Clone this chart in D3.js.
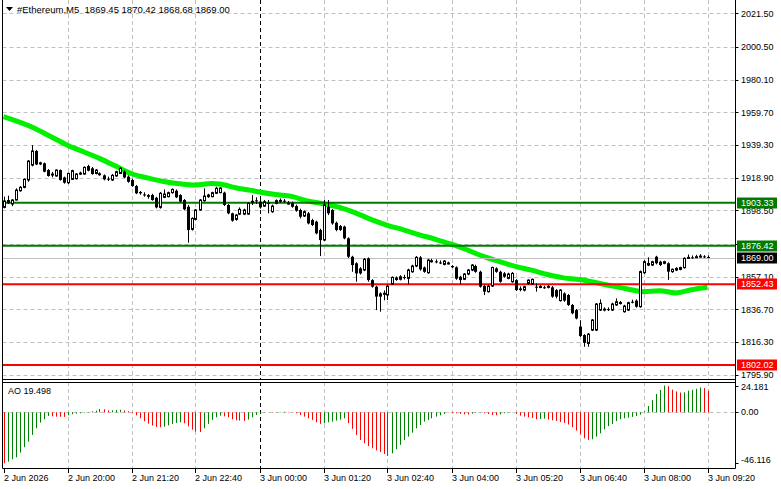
<!DOCTYPE html>
<html>
<head>
<meta charset="utf-8">
<script src="https://cdn.jsdelivr.net/npm/d3@7"></script>
<style>
  body { margin: 0; background: #fff; }
  svg { display: block; font-family: "Liberation Sans", Arial, sans-serif; }
</style>
</head>
<body>
<div id="chart"></div>
<script>
// chart values (5 minute bars, index 0 = 2 Jun 18:40)
const opens = [
  1900.4, 1905.0, 1902.5, 1905.0, 1910.8, 1912.9, 1917.5, 1926.8, 1935.6, 1927.6,
  1927.9, 1923.7, 1920.6, 1920.0, 1923.7, 1919.1, 1915.8, 1917.9, 1918.3, 1921.6,
  1921.2, 1926.2, 1924.8, 1921.6, 1921.2, 1920.4, 1918.3, 1917.5, 1920.0, 1921.6,
  1922.7, 1919.6, 1917.5, 1913.7, 1910.0, 1908.5, 1908.1, 1908.1, 1906.4, 1900.4,
  1906.7, 1907.1, 1909.6, 1910.8, 1908.1, 1905.0, 1900.8, 1886.7, 1892.9, 1898.8,
  1904.6, 1907.1, 1907.1, 1909.2, 1909.6, 1909.6, 1901.9, 1896.7, 1892.9, 1896.2,
  1896.2, 1896.2, 1903.3, 1904.8, 1904.0, 1901.2, 1903.3, 1897.7, 1902.9, 1904.2,
  1904.6, 1903.0, 1903.1, 1901.2, 1898.8, 1895.0, 1896.7, 1892.5, 1891.5, 1886.3,
  1880.0, 1900.8, 1898.8, 1890.8, 1888.8, 1888.4, 1881.1, 1869.6, 1865.5, 1862.3,
  1861.3, 1868.6, 1855.0, 1850.9, 1846.7, 1846.6, 1845.7, 1852.5, 1855.4, 1855.5,
  1856.9, 1856.1, 1860.2, 1863.8, 1869.2, 1862.9, 1859.6, 1866.9, 1866.7, 1866.0,
  1864.8, 1865.5, 1863.8, 1863.0, 1857.1, 1855.5, 1858.8, 1861.3, 1863.8, 1860.2,
  1851.3, 1847.8, 1851.3, 1862.3, 1860.2, 1859.2, 1856.1, 1854.0, 1855.0, 1849.8,
  1848.8, 1852.9, 1852.6, 1850.9, 1850.8, 1850.5, 1850.9, 1850.5, 1848.8, 1842.2,
  1846.7, 1845.7, 1839.5, 1836.3, 1826.0, 1820.7, 1815.5, 1823.8, 1823.8, 1836.3,
  1836.7, 1836.9, 1836.3, 1839.5, 1840.9, 1835.3, 1836.3, 1841.5, 1842.2, 1838.4,
  1859.6, 1864.4, 1864.4, 1869.6, 1866.5, 1865.5, 1865.5, 1860.3, 1861.3, 1861.7,
  1862.8, 1869.0, 1869.2, 1869.2, 1869.6, 1869.8, 1869.45
];
const highs = [
  1907.1, 1907.7, 1905.6, 1912.3, 1913.7, 1918.5, 1930.0, 1939.3, 1936.2, 1928.9,
  1928.4, 1924.3, 1922.5, 1924.1, 1924.1, 1919.6, 1922.1, 1923.9, 1921.8, 1922.7,
  1926.0, 1927.0, 1925.6, 1924.3, 1922.3, 1921.0, 1919.6, 1921.2, 1923.3, 1925.6,
  1923.5, 1920.4, 1918.3, 1914.4, 1910.6, 1909.8, 1908.7, 1908.9, 1907.0, 1910.0,
  1911.6, 1910.2, 1912.3, 1911.6, 1908.7, 1905.6, 1901.9, 1894.2, 1899.4, 1905.6,
  1912.3, 1908.9, 1910.2, 1913.3, 1913.1, 1910.2, 1902.5, 1897.1, 1896.3, 1900.4,
  1899.6, 1903.5, 1908.1, 1906.7, 1905.0, 1905.0, 1905.0, 1902.1, 1905.4, 1906.0,
  1905.6, 1904.4, 1904.0, 1902.1, 1899.6, 1898.5, 1897.5, 1893.3, 1892.1, 1887.1,
  1905.0, 1905.0, 1899.4, 1891.5, 1889.4, 1889.0, 1881.7, 1870.2, 1866.1, 1863.1,
  1868.8, 1869.2, 1855.6, 1851.5, 1847.4, 1848.6, 1852.1, 1857.3, 1857.3, 1858.1,
  1858.3, 1862.1, 1864.6, 1870.0, 1870.0, 1863.5, 1868.3, 1868.3, 1867.9, 1867.3,
  1867.5, 1866.5, 1864.4, 1863.6, 1857.7, 1859.4, 1861.9, 1865.0, 1864.6, 1860.9,
  1852.1, 1852.1, 1863.4, 1863.0, 1860.9, 1860.0, 1859.6, 1860.0, 1855.6, 1851.1,
  1851.5, 1855.5, 1856.0, 1852.9, 1851.9, 1851.5, 1851.9, 1851.3, 1849.4, 1849.4,
  1847.4, 1846.3, 1840.1, 1837.0, 1830.0, 1821.3, 1822.0, 1830.7, 1840.7, 1843.0,
  1838.0, 1838.0, 1840.9, 1843.6, 1842.0, 1839.6, 1841.5, 1842.8, 1843.0, 1861.0,
  1867.5, 1869.2, 1867.1, 1870.2, 1867.1, 1867.1, 1866.1, 1862.3, 1863.0, 1863.4,
  1869.2, 1871.0, 1870.4, 1870.8, 1871.2, 1870.6, 1870.42
];
const lows = [
  1899.8, 1902.5, 1901.2, 1904.8, 1910.2, 1912.3, 1916.4, 1926.0, 1926.8, 1926.8,
  1922.3, 1919.6, 1919.2, 1919.6, 1917.1, 1915.2, 1915.0, 1917.5, 1917.9, 1920.6,
  1920.8, 1922.9, 1920.8, 1921.0, 1920.2, 1917.3, 1916.9, 1916.9, 1919.6, 1921.2,
  1918.7, 1915.8, 1913.3, 1908.7, 1908.3, 1907.1, 1905.8, 1904.6, 1899.8, 1899.6,
  1906.2, 1906.7, 1909.0, 1906.2, 1903.5, 1898.6, 1878.4, 1885.9, 1892.3, 1898.3,
  1904.0, 1906.4, 1906.7, 1908.7, 1909.2, 1901.3, 1896.1, 1891.5, 1892.1, 1895.6,
  1895.6, 1895.8, 1901.9, 1902.5, 1899.6, 1900.8, 1896.7, 1897.0, 1902.3, 1903.3,
  1903.1, 1902.1, 1900.2, 1897.7, 1893.5, 1894.4, 1889.8, 1888.7, 1883.6, 1870.0,
  1879.4, 1895.6, 1889.6, 1885.5, 1885.7, 1880.5, 1868.8, 1860.2, 1854.0, 1858.5,
  1860.6, 1854.0, 1850.3, 1836.3, 1835.3, 1842.4, 1842.6, 1851.9, 1854.6, 1854.8,
  1855.4, 1852.5, 1859.6, 1863.1, 1860.9, 1859.6, 1859.0, 1865.9, 1865.5, 1865.0,
  1864.2, 1864.8, 1862.5, 1855.2, 1852.5, 1855.0, 1858.1, 1860.6, 1859.6, 1850.3,
  1845.7, 1847.2, 1850.8, 1859.6, 1853.4, 1856.5, 1855.5, 1853.4, 1848.2, 1848.0,
  1848.0, 1852.0, 1852.0, 1847.8, 1850.0, 1849.6, 1849.8, 1844.0, 1843.6, 1841.6,
  1841.5, 1838.9, 1833.7, 1830.5, 1819.5, 1813.4, 1813.4, 1823.2, 1823.2, 1835.7,
  1835.5, 1835.7, 1835.7, 1838.9, 1839.8, 1834.7, 1835.7, 1840.5, 1837.8, 1837.8,
  1858.9, 1863.7, 1863.8, 1864.8, 1863.8, 1864.9, 1855.1, 1859.6, 1860.6, 1861.1,
  1862.2, 1868.4, 1868.4, 1868.8, 1869.0, 1868.8, 1868.68
];
const closes = [
  1904.4, 1902.9, 1905.0, 1911.2, 1912.9, 1917.9, 1929.3, 1935.6, 1927.2, 1928.2,
  1922.7, 1920.0, 1921.2, 1923.7, 1917.5, 1915.8, 1921.6, 1923.3, 1921.2, 1921.8,
  1925.4, 1923.3, 1921.2, 1923.7, 1921.4, 1917.9, 1918.1, 1920.4, 1922.7, 1924.8,
  1919.1, 1916.4, 1913.7, 1909.2, 1909.2, 1908.3, 1907.0, 1905.0, 1900.4, 1909.2,
  1908.7, 1909.6, 1911.6, 1906.7, 1904.0, 1899.2, 1886.3, 1893.5, 1898.8, 1905.0,
  1907.5, 1908.1, 1909.6, 1912.3, 1912.5, 1901.9, 1896.7, 1892.1, 1895.6, 1899.2,
  1898.8, 1902.9, 1904.2, 1904.4, 1900.4, 1903.9, 1902.5, 1901.2, 1904.6, 1904.8,
  1904.0, 1903.1, 1900.8, 1898.3, 1894.6, 1897.7, 1890.4, 1889.4, 1884.2, 1880.0,
  1901.9, 1896.7, 1890.4, 1886.3, 1886.3, 1881.1, 1869.6, 1864.4, 1859.2, 1859.2,
  1868.0, 1855.0, 1850.9, 1844.7, 1844.7, 1846.8, 1851.3, 1856.7, 1856.3, 1857.1,
  1856.7, 1861.3, 1863.8, 1869.2, 1861.7, 1860.2, 1867.5, 1867.1, 1866.5, 1865.8,
  1866.9, 1865.7, 1863.0, 1855.9, 1855.0, 1858.8, 1861.3, 1864.4, 1860.2, 1850.9,
  1847.8, 1851.3, 1862.9, 1860.2, 1854.0, 1857.1, 1858.8, 1859.2, 1848.8, 1848.8,
  1850.9, 1855.0, 1855.5, 1850.7, 1851.0, 1850.4, 1851.1, 1844.7, 1844.7, 1848.8,
  1842.2, 1839.5, 1834.3, 1831.1, 1820.1, 1815.9, 1821.3, 1830.1, 1840.1, 1840.5,
  1836.9, 1836.7, 1840.1, 1841.5, 1841.0, 1838.8, 1840.9, 1841.3, 1838.4, 1860.3,
  1866.5, 1865.4, 1866.5, 1865.5, 1864.4, 1866.5, 1860.3, 1861.7, 1862.3, 1862.8,
  1868.6, 1869.2, 1869.0, 1869.6, 1870.0, 1869.4, 1869.00
];

// moving average, sampled at bar index
const maBars = [0, 8, 12, 16, 20, 24, 28, 32, 36, 40, 44, 48, 52, 54, 58, 62, 64, 68, 72, 76, 80, 84, 88,
  92, 96, 100, 104, 108, 112, 116, 120, 124, 128, 132, 136, 140, 144, 148, 152, 156, 160, 164, 168, 172, 176];
const maValues = [1957.0, 1949.5, 1944.3, 1939.2, 1935.1, 1931.0, 1926.2, 1921.4, 1918.8, 1916.6, 1915.2,
  1914.4, 1915.3, 1915.0, 1912.7, 1911.0, 1910.0, 1908.4, 1907.3, 1904.4, 1902.7, 1900.4, 1897.0, 1892.8,
  1889.2, 1886.4, 1883.3, 1880.5, 1877.4, 1873.8, 1869.8, 1866.5, 1863.6, 1861.2, 1858.5, 1856.4, 1855.4,
  1853.5, 1851.4, 1849.5, 1847.8, 1848.4, 1847.0, 1849.0, 1850.5];

// Awesome Oscillator
const aoValues = [
  -46.116, -44.6, -42.5, -40.7, -36.5, -31.6, -26.5, -20.5, -14.5, -9.3,
  -6.3, -3.3, -3.6, -3.9, -4.1, -4.2, -2.6, -1.8, -1.2, -0.9,
  -0.4, 0.3, 0.9, 1.5, 3.0, 2.7, 1.6, 1.8, 2.1, 2.3,
  1.6, 1.0, -0.6, -2.7, -5.4, -8.0, -10.2, -12.0, -13.2, -13.6,
  -13.0, -11.8, -10.5, -9.6, -9.0, -9.9, -12.7, -15.7, -17.5, -17.8,
  -14.5, -10.5, -6.9, -4.5, -3.0, -3.6, -4.5, -6.3, -7.2, -7.5,
  -7.8, -6.6, -4.5, -2.4, -0.9, 0.2, -0.1, -0.4, -0.2, 0.3,
  0.5, 0.3, -0.1, -0.9, -2.4, -3.9, -5.4, -6.9, -9.0, -10.5,
  -9.9, -9.0, -8.4, -7.5, -6.6, -5.4, -9.9, -15.0, -20.5, -25.0,
  -28.0, -30.5, -32.6, -34.4, -35.9, -37.7, -39.5, -37.1, -33.5, -29.5,
  -25.0, -22.0, -18.4, -14.5, -11.5, -8.4, -6.9, -5.4, -3.9, -2.7,
  -1.5, -0.3, -0.6, -0.9, -1.5, -1.8, -2.0, -1.2, -0.5, -0.2,
  -0.9, -1.5, -2.4, -2.7, -1.8, -0.9, -0.3, 0.2, -1.5, -3.0,
  -3.9, -4.5, -5.1, -6.3, -6.0, -5.7, -6.6, -7.2, -7.8, -8.7,
  -9.6, -11.0, -13.5, -16.5, -20.0, -23.5, -25.0, -24.4, -22.0, -19.0,
  -15.4, -12.5, -10.5, -8.0, -6.3, -5.4, -4.8, -4.2, -3.3, -2.1,
  0.8, 5.7, 11.2, 16.6, 20.2, 24.181, 23.5, 20.5, 18.9, 17.9,
  18.1, 19.6, 20.4, 21.3, 22.4, 21.8, 19.498
];

// grid levels of the price scale; the one at 1877.70 has its label hidden by the 1876.42 tag
const priceTicks = [2021.50, 2000.50, 1980.10, 1959.70, 1939.30, 1918.90, 1898.50, 1877.70, 1857.10, 1836.70, 1816.30, 1795.90];
const hiddenTick = 1877.70;
const aoTicks = [24.181, 0, -46.116];
const aoTickLabels = ["24.181", "0.00", "-46.116"];
const timeBars = [0, 16, 32, 48, 64, 80, 96, 112, 128, 144, 160, 176];
const timeLabels = ["2 Jun 2026", "2 Jun 20:00", "2 Jun 21:20", "2 Jun 22:40", "3 Jun 00:00", "3 Jun 01:20",
  "3 Jun 02:40", "3 Jun 04:00", "3 Jun 05:20", "3 Jun 06:40", "3 Jun 08:00", "3 Jun 09:20"];
const levelValues = [1903.33, 1876.42, 1852.43, 1802.02];
const levelKinds = ["support", "support", "resist", "resist"];
const bidPrice = 1869.00;
const headerText = "#Ethereum,M5  1869.45 1870.42 1868.68 1869.00";
const aoLabel = "AO 19.498";

// layout
const W = 781, H = 489;
const left = 2.5, right = 735.5;
const mainTop = 0, mainBottom = 379;
const aoTop = 382, aoBottom = 468;
const levelColor = { support: "#007b00", resist: "#ff0000" };

const svg = d3.select("#chart").append("svg")
  .attr("width", W).attr("height", H);

svg.append("rect").attr("width", W).attr("height", H).attr("fill", "#fff");

const x = d3.scaleLinear().domain([0, 176]).range([3.5, 707.5]);
const y = d3.scaleLinear().domain([1793.28, 2029.86]).range([mainBottom, mainTop]);
const yAo = d3.scaleLinear().domain([-50.4, 27.4]).range([aoBottom, aoTop]);

svg.append("clipPath").attr("id", "clipMain")
  .append("rect").attr("x", left).attr("y", mainTop).attr("width", right - left).attr("height", mainBottom - mainTop);
svg.append("clipPath").attr("id", "clipAo")
  .append("rect").attr("x", left).attr("y", aoTop).attr("width", right - left).attr("height", aoBottom - aoTop);

const main = svg.append("g").attr("clip-path", "url(#clipMain)");
const ao = svg.append("g").attr("clip-path", "url(#clipAo)");

// grid
const gridColor = "#c0c0c0";
main.selectAll(".hgrid").data(priceTicks).join("line")
  .attr("x1", left).attr("x2", right)
  .attr("y1", d => Math.round(y(d)) + 0.5).attr("y2", d => Math.round(y(d)) + 0.5)
  .attr("stroke", gridColor).attr("stroke-dasharray", "4,3");

[main, ao].forEach((g, k) => {
  const top = k === 0 ? mainTop : aoTop;
  const bot = k === 0 ? mainBottom : aoBottom;
  g.selectAll(".vgrid").data(timeBars.slice(1)).join("line")
    .attr("x1", d => Math.round(x(d)) + 0.5).attr("x2", d => Math.round(x(d)) + 0.5)
    .attr("y1", top).attr("y2", bot)
    .attr("stroke", d => d === 64 ? "#000" : gridColor)
    .attr("stroke-dasharray", "4,3");
});

ao.append("line")
  .attr("x1", left).attr("x2", right)
  .attr("y1", Math.round(yAo(0)) + 0.5).attr("y2", Math.round(yAo(0)) + 0.5)
  .attr("stroke", gridColor).attr("stroke-dasharray", "4,3");

// moving average
const maPts = maBars.map((b, i) => [b, maValues[i]]);
main.append("path")
  .datum(maPts)
  .attr("fill", "none").attr("stroke", "#00f000").attr("stroke-width", 5)
  .attr("d", d3.line().x(d => x(d[0])).y(d => y(d[1])).curve(d3.curveMonotoneX));

// horizontal levels
main.selectAll(".level").data(levelValues).join("line")
  .attr("x1", left).attr("x2", right)
  .attr("y1", d => y(d)).attr("y2", d => y(d))
  .attr("stroke", (d, i) => levelColor[levelKinds[i]]).attr("stroke-width", 2);

main.append("line")
  .attr("x1", left).attr("x2", right)
  .attr("y1", Math.round(y(bidPrice)) + 0.5).attr("y2", Math.round(y(bidPrice)) + 0.5)
  .attr("stroke", "#c0c0c0");

// candles
const bars = d3.range(opens.length);
const candle = main.selectAll(".candle").data(bars).join("g");
candle.append("line")
  .attr("x1", i => Math.round(x(i)) + 0.5).attr("x2", i => Math.round(x(i)) + 0.5)
  .attr("y1", i => y(highs[i])).attr("y2", i => y(lows[i]))
  .attr("stroke", "#000");
candle.append("rect")
  .attr("x", i => Math.round(x(i)) - 1 + (closes[i] >= opens[i] ? 0.5 : 0))
  .attr("width", i => closes[i] >= opens[i] ? 2 : 3)
  .attr("y", i => y(Math.max(opens[i], closes[i])))
  .attr("height", i => Math.max(1, Math.abs(y(opens[i]) - y(closes[i]))))
  .attr("fill", i => closes[i] >= opens[i] ? "#fff" : "#000")
  .attr("stroke", i => closes[i] >= opens[i] ? "#000" : "none");

// AO histogram, green when rising
ao.selectAll(".aobar").data(aoValues).join("rect")
  .attr("x", (d, i) => Math.round(x(i)))
  .attr("width", 1)
  .attr("y", d => Math.min(yAo(d), yAo(0)))
  .attr("height", d => Math.abs(yAo(d) - yAo(0)))
  .attr("fill", (d, i) => (i > 0 && d > aoValues[i - 1]) ? "#008000" : "#ff0000");

// frames
const frame = svg.append("g").attr("stroke", "#000").attr("fill", "none");
frame.append("line").attr("x1", left).attr("x2", left).attr("y1", 0).attr("y2", aoBottom + 0.5);
frame.append("line").attr("x1", right).attr("x2", right).attr("y1", 0).attr("y2", aoBottom + 0.5);
frame.append("line").attr("x1", left).attr("x2", right).attr("y1", mainBottom + 0.5).attr("y2", mainBottom + 0.5);
frame.append("line").attr("x1", left).attr("x2", right).attr("y1", aoTop + 0.5).attr("y2", aoTop + 0.5);
frame.append("line").attr("x1", left).attr("x2", right).attr("y1", aoBottom + 0.5).attr("y2", aoBottom + 0.5);

// price axis
const fs = 9;
const axisG = svg.append("g").attr("font-size", fs).attr("fill", "#000");
axisG.selectAll(".pt").data(priceTicks).join("line")
  .attr("x1", right).attr("x2", right + 3)
  .attr("y1", d => Math.round(y(d)) + 0.5).attr("y2", d => Math.round(y(d)) + 0.5)
  .attr("stroke", "#000");
// labels next to a tag are pushed a little away from it, as the terminal does
const nudge = { 1898.50: 1.5, 1857.10: -1.5 };
axisG.selectAll(".pl").data(priceTicks.filter(d => d !== hiddenTick)).join("text")
  .attr("x", 741).attr("y", d => y(d) + (nudge[d.toFixed(2)] || 0)).attr("dy", "0.35em")
  .text(d => d.toFixed(2));

// AO axis
axisG.selectAll(".at").data(aoTicks).join("line")
  .attr("x1", right).attr("x2", right + 3)
  .attr("y1", d => Math.round(yAo(d)) + 0.5).attr("y2", d => Math.round(yAo(d)) + 0.5)
  .attr("stroke", "#000");
axisG.selectAll(".al").data(aoTicks).join("text")
  .attr("x", 741)
  .attr("y", (d, i) => i === 0 ? yAo(d) + 1.5 : i === 2 ? yAo(d) - 3 : yAo(d))
  .attr("dy", "0.35em")
  .text((d, i) => aoTickLabels[i]);

// level labels
const tags = levelValues.map((v, i) => ({ v, fill: levelColor[levelKinds[i]] }))
  .concat([{ v: bidPrice, fill: "#000" }]);
const tagG = svg.append("g").selectAll("g").data(tags).join("g")
  .attr("transform", d => `translate(737,${Math.round(y(d.v))})`);
tagG.append("rect").attr("x", 0).attr("y", -5.5).attr("width", 40).attr("height", 11).attr("fill", d => d.fill);
tagG.append("text").attr("x", 4).attr("y", 0).attr("dy", "0.35em")
  .attr("font-size", fs).attr("fill", "#fff").text(d => d.v.toFixed(2));

// time axis
const tG = svg.append("g").attr("font-size", fs);
tG.selectAll("line").data(timeBars).join("line")
  .attr("x1", d => Math.round(x(d)) + 0.5).attr("x2", d => Math.round(x(d)) + 0.5)
  .attr("y1", aoBottom + 1).attr("y2", aoBottom + 5)
  .attr("stroke", "#000");
tG.selectAll("text").data(timeBars).join("text")
  .attr("x", d => Math.round(x(d)))
  .attr("y", 481)
  .text((d, i) => timeLabels[i]);

// header and indicator label
svg.append("path").attr("d", "M6,7 L13,7 L9.5,11 Z").attr("fill", "#000");
svg.append("text").attr("x", 17).attr("y", 13).attr("font-size", 9.5)
  .attr("xml:space", "preserve").style("white-space", "pre").text(headerText);
svg.append("text").attr("x", 8).attr("y", 394).attr("font-size", fs).text(aoLabel);
</script>
</body>
</html>
